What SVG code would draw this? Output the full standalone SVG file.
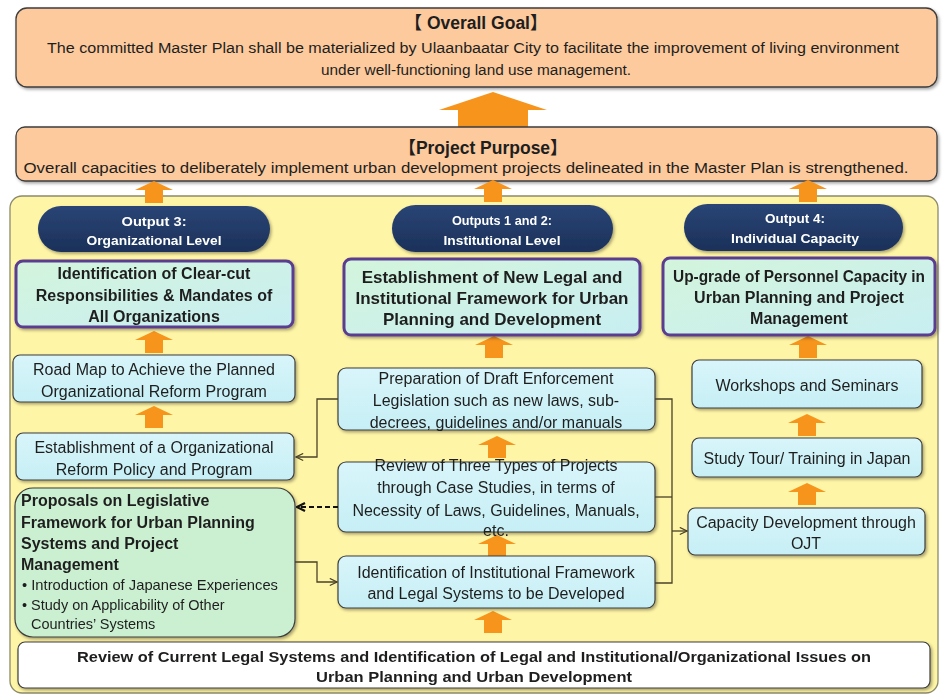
<svg xmlns="http://www.w3.org/2000/svg" width="952" height="699" viewBox="0 0 952 699">
  <defs>
    <style>
      .t { font-family: "Liberation Sans", Arial, sans-serif; fill: #1e1e1e; }
      .b { font-weight: bold; }
      .c { text-anchor: middle; }
      .hd { font-family: "Liberation Sans", "Noto Sans CJK JP", sans-serif; font-weight: bold; font-size: 17.5px; fill: #1e1e1e; text-anchor: middle; }
      .pill { fill: url(#navy); }
      .pillt { font-family: "Liberation Sans", Arial, sans-serif; font-weight: bold; font-size: 13px; fill: #ffffff; text-anchor: middle; }
      .peach { fill: #fcca9d; stroke: #3c3c3c; stroke-width: 1.3; }
      .cyan { fill: url(#cyanG); stroke: #3e3e3e; stroke-width: 1.2; }
      .green { fill: #cbf0d1; stroke: #3e3e3e; stroke-width: 1.2; }
      .key { fill: url(#keyG); stroke: #5a3d8e; stroke-width: 3; }
      .conn { fill: none; stroke: #4a4128; stroke-width: 1.3; }
      .arw { fill: #f7941e; }
      .bx { font-size: 16px; }
      .kx { font-size: 16px; font-weight: bold; }
      .kx17 { font-size: 17px; font-weight: bold; }
    </style>
    <linearGradient id="navy" x1="0" y1="0" x2="0" y2="1">
      <stop offset="0" stop-color="#2a4576"/>
      <stop offset="1" stop-color="#1b3159"/>
    </linearGradient>
    <linearGradient id="cyanG" x1="0" y1="0" x2="0" y2="1">
      <stop offset="0" stop-color="#d8f5fa"/>
      <stop offset="1" stop-color="#c6eff5"/>
    </linearGradient>
    <linearGradient id="keyG" x1="0" y1="0" x2="1" y2="1">
      <stop offset="0" stop-color="#d3f5dc"/>
      <stop offset="1" stop-color="#c8eef2"/>
    </linearGradient>
    <filter id="shadow" x="-5%" y="-10%" width="110%" height="130%">
      <feDropShadow dx="1.5" dy="1.8" stdDeviation="1.4" flood-color="#000" flood-opacity="0.35"/>
    </filter>
    <filter id="soft" x="-20%" y="-20%" width="140%" height="140%">
      <feGaussianBlur stdDeviation="0.7"/>
    </filter>
    <!-- block arrow pointing up, tip at (0,0), 38 wide, 22 tall -->
    <path id="up" d="M0 0 L19 9 L9 9 L9 22 L-9 22 L-9 9 L-19 9 Z"/>
    <marker id="open" viewBox="0 0 10 10" refX="9" refY="5" markerWidth="9" markerHeight="9" markerUnits="userSpaceOnUse" orient="auto">
      <path d="M1 1 L9 5 L1 9" fill="none" stroke="#4a4128" stroke-width="1.3"/>
    </marker>
    <marker id="openBold" viewBox="0 0 10 10" refX="9" refY="5" markerWidth="10" markerHeight="10" markerUnits="userSpaceOnUse" orient="auto">
      <path d="M1 1 L9 5 L1 9" fill="none" stroke="#111" stroke-width="2.2"/>
    </marker>
  </defs>

  <rect width="952" height="699" fill="#ffffff"/>

  <!-- Overall goal -->
  <g id="overall-goal">
    <rect class="peach" x="16" y="8" width="921" height="79" rx="11" filter="url(#shadow)"/>
    <text class="hd" x="476" y="29">【 Overall Goal】</text>
    <text class="t c" x="473" y="53" font-size="15.5" textLength="852" lengthAdjust="spacingAndGlyphs">The committed Master Plan shall be materialized by Ulaanbaatar City to facilitate the improvement of living environment</text>
    <text class="t c" x="476" y="75" font-size="15.5" textLength="310" lengthAdjust="spacingAndGlyphs">under well-functioning land use management.</text>
  </g>

  <!-- large arrow from purpose to goal -->
  <path class="arw" filter="url(#soft)" d="M493 92 L547 110 L528 110 L528 127 L458 127 L458 110 L439 110 Z"/>

  <!-- Project purpose -->
  <g id="project-purpose">
    <rect class="peach" x="16" y="127" width="921" height="54" rx="9" filter="url(#shadow)"/>
    <text class="hd" x="483" y="154">【Project Purpose】</text>
    <text class="t c" x="466" y="173" font-size="15.5" textLength="885" lengthAdjust="spacingAndGlyphs">Overall capacities to deliberately implement urban development projects delineated in the Master Plan is strengthened.</text>
  </g>

  <!-- outputs container -->
  <g id="outputs-panel">
    <rect x="10" y="196" width="928" height="497" rx="12" fill="#fff5a6" stroke="#8c8a6a" stroke-width="1.3"/>
  </g>

  <!-- orange up arrows -->
  <g id="flow-arrows" class="arw" filter="url(#soft)">
    <use href="#up" x="154" y="181"/>
    <use href="#up" x="493" y="180"/>
    <use href="#up" x="808" y="180"/>
    <use href="#up" x="154" y="331"/>
    <use href="#up" x="494" y="336"/>
    <use href="#up" x="808" y="336"/>
    <use href="#up" x="154" y="406"/>
    <use href="#up" x="497" y="436"/>
    <use href="#up" x="497" y="535"/>
    <use href="#up" x="493" y="611"/>
    <use href="#up" x="807" y="414"/>
    <use href="#up" x="807" y="483"/>
  </g>

  <!-- output headers -->
  <g id="output3-header">
    <rect class="pill" x="38" y="206" width="232" height="46" rx="23" filter="url(#shadow)"/>
    <text class="pillt" x="154" y="226" textLength="65" lengthAdjust="spacingAndGlyphs">Output 3:</text>
    <text class="pillt" x="154" y="245" textLength="135" lengthAdjust="spacingAndGlyphs">Organizational Level</text>
  </g>
  <g id="output12-header">
    <rect class="pill" x="392" y="205" width="221" height="47" rx="23.5" filter="url(#shadow)"/>
    <text class="pillt" x="502" y="225" textLength="100" lengthAdjust="spacingAndGlyphs">Outputs 1 and 2:</text>
    <text class="pillt" x="502" y="245" textLength="117" lengthAdjust="spacingAndGlyphs">Institutional Level</text>
  </g>
  <g id="output4-header">
    <rect class="pill" x="684" y="204" width="219" height="47" rx="23.5" filter="url(#shadow)"/>
    <text class="pillt" x="795" y="223" textLength="60" lengthAdjust="spacingAndGlyphs">Output 4:</text>
    <text class="pillt" x="795" y="243" textLength="128" lengthAdjust="spacingAndGlyphs">Individual Capacity</text>
  </g>

  <!-- key result boxes -->
  <g id="org-responsibilities">
    <rect class="key" x="16" y="261" width="277" height="66" rx="7" filter="url(#shadow)"/>
    <text class="t kx c" x="154" y="279">Identification of Clear-cut</text>
    <text class="t kx c" x="154" y="301">Responsibilities &amp; Mandates of</text>
    <text class="t kx c" x="154" y="322">All Organizations</text>
  </g>
  <g id="new-framework">
    <rect class="key" x="344" y="259" width="296" height="76" rx="7" filter="url(#shadow)"/>
    <text class="t kx17 c" x="492" y="283">Establishment of New Legal and</text>
    <text class="t kx17 c" x="492" y="304">Institutional Framework for Urban</text>
    <text class="t kx17 c" x="492" y="325">Planning and  Development</text>
  </g>
  <g id="personnel-capacity">
    <rect class="key" x="663" y="258" width="272" height="77" rx="7" filter="url(#shadow)"/>
    <text class="t kx c" x="799" y="282" textLength="252" lengthAdjust="spacingAndGlyphs">Up-grade of Personnel Capacity in</text>
    <text class="t kx c" x="799" y="303">Urban Planning and Project</text>
    <text class="t kx c" x="799" y="324">Management</text>
  </g>

  <!-- left column -->
  <g id="road-map">
    <rect class="cyan" x="13" y="355" width="282" height="47" rx="7" filter="url(#shadow)"/>
    <text class="t bx c" x="154" y="375">Road Map to Achieve  the Planned</text>
    <text class="t bx c" x="154" y="397">Organizational Reform Program</text>
  </g>
  <g id="reform-policy">
    <rect class="cyan" x="16" y="433" width="278" height="47" rx="7" filter="url(#shadow)"/>
    <text class="t bx c" x="154" y="453">Establishment of a Organizational</text>
    <text class="t bx c" x="154" y="475">Reform Policy and Program</text>
  </g>
  <g id="legislative-proposals">
    <rect class="green" x="15" y="488" width="280" height="149" rx="18" filter="url(#shadow)"/>
    <text class="t kx" x="21" y="506">Proposals on Legislative</text>
    <text class="t kx" x="21" y="528">Framework for Urban Planning</text>
    <text class="t kx" x="21" y="549">Systems and Project</text>
    <text class="t kx" x="21" y="570">Management</text>
    <text class="t" font-size="14.5" x="22" y="590" textLength="256" lengthAdjust="spacingAndGlyphs">• Introduction of Japanese Experiences</text>
    <text class="t" font-size="14.5" x="22" y="610">• Study on Applicability of Other</text>
    <text class="t" font-size="14.5" x="31" y="629">Countries’ Systems</text>
  </g>

  <!-- middle column -->
  <g id="draft-legislation">
    <rect class="cyan" x="338" y="368" width="317" height="62" rx="8" filter="url(#shadow)"/>
    <text class="t bx c" x="496" y="384">Preparation of Draft Enforcement</text>
    <text class="t bx c" x="496" y="406">Legislation such as new laws, sub-</text>
    <text class="t bx c" x="496" y="428">decrees, guidelines and/or manuals</text>
  </g>
  <g id="case-studies">
    <rect class="cyan" x="338" y="462" width="317" height="70" rx="8" filter="url(#shadow)"/>
    <text class="t bx c" x="496" y="471">Review of Three Types of Projects</text>
    <text class="t bx c" x="496" y="493">through Case Studies, in terms of</text>
    <text class="t bx c" x="496" y="516">Necessity of Laws, Guidelines, Manuals,</text>
    <text class="t bx c" x="496" y="536">etc.</text>
  </g>
  <g id="framework-identification">
    <rect class="cyan" x="338" y="556" width="317" height="52" rx="8" filter="url(#shadow)"/>
    <text class="t bx c" x="496" y="578">Identification of Institutional Framework</text>
    <text class="t bx c" x="496" y="599">and Legal Systems to be Developed</text>
  </g>

  <!-- right column -->
  <g id="workshops">
    <rect class="cyan" x="692" y="360" width="230" height="48" rx="7" filter="url(#shadow)"/>
    <text class="t bx c" x="807" y="391">Workshops and Seminars</text>
  </g>
  <g id="study-tour">
    <rect class="cyan" x="692" y="438" width="230" height="39" rx="7" filter="url(#shadow)"/>
    <text class="t bx c" x="807" y="464">Study Tour/ Training in Japan</text>
  </g>
  <g id="ojt">
    <rect class="cyan" x="688" y="508" width="237" height="47" rx="7" filter="url(#shadow)"/>
    <text class="t bx c" x="806" y="528">Capacity Development through</text>
    <text class="t bx c" x="806" y="549">OJT</text>
  </g>

  <!-- baseline review -->
  <g id="current-systems-review">
    <rect x="18" y="642" width="912" height="46" rx="7" fill="#ffffff" stroke="#3e3e3e" stroke-width="1.2" filter="url(#shadow)"/>
    <text class="t b c" font-size="15" x="474" y="662" textLength="794" lengthAdjust="spacingAndGlyphs">Review of Current Legal Systems and Identification of Legal and Institutional/Organizational Issues on</text>
    <text class="t b c" font-size="15" x="474" y="682" textLength="316" lengthAdjust="spacingAndGlyphs">Urban Planning and Urban Development</text>
  </g>

  <!-- connectors -->
  <g id="connectors">
    <path class="conn" d="M338 399 H317 V457 H296" marker-end="url(#open)"/>
    <path d="M338 507 H297" fill="none" stroke="#111" stroke-width="2" stroke-dasharray="5 3" marker-end="url(#openBold)"/>
    <path class="conn" d="M295 562 H317 V582 H337" marker-end="url(#open)"/>
    <path class="conn" d="M655 399 H672 V583 H655"/>
    <path class="conn" d="M655 497 H672"/>
    <path class="conn" d="M672 531 H687" marker-end="url(#open)"/>
  </g>
</svg>
